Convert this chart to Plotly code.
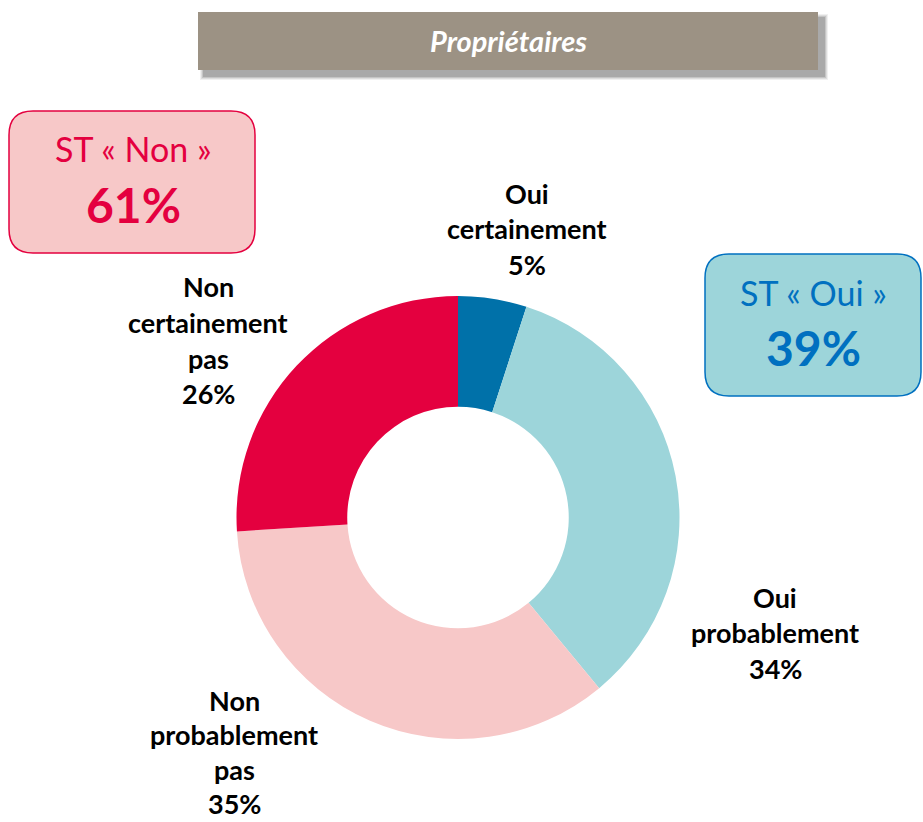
import plotly.graph_objects as go

W, H = 923, 822

categories = ["Oui certainement", "Oui probablement", "Non probablement pas", "Non certainement pas"]
values = [5, 34, 35, 26]
colors = ["#0071A9", "#9DD5DA", "#F7C8C8", "#E4003F"]
label_lines = [
    ["Oui", "certainement", "5%"],
    ["Oui", "probablement", "34%"],
    ["Non", "probablement", "pas", "35%"],
    ["Non", "certainement", "pas", "26%"],
]
title_text = "Propriétaires"
st_non = ["ST « Non »", "61%"]
st_oui = ["ST « Oui »", "39%"]


def px(x):
    return x / W


def py(y):
    return 1 - y / H


def rrect(x0, y0, x1, y1, r):
    rx, ry = r / W, r / H
    X0, X1 = px(x0), px(x1)
    Y0, Y1 = py(y0), py(y1)  # Y0 top, Y1 bottom
    return (f"M {X0+rx},{Y0} L {X1-rx},{Y0} Q {X1},{Y0} {X1},{Y0-ry} "
            f"L {X1},{Y1+ry} Q {X1},{Y1} {X1-rx},{Y1} L {X0+rx},{Y1} "
            f"Q {X0},{Y1} {X0},{Y1+ry} L {X0},{Y0-ry} Q {X0},{Y0} {X0+rx},{Y0} Z")


fig = go.Figure()
fig.add_trace(go.Pie(
    labels=categories, values=values, hole=0.5, sort=False,
    direction="clockwise", rotation=0,
    marker=dict(colors=colors, line=dict(width=0)),
    textinfo="none", hoverinfo="label+percent", showlegend=False,
    domain=dict(x=[px(236), px(680)], y=[py(739), py(296)]),
))

shapes = []
# banner shadow
for i, op in enumerate([0.08, 0.10, 0.14, 0.20]):
    d = 4 - i
    shapes.append(dict(type="rect", xref="paper", yref="paper",
                       x0=px(198 + 6 - d), x1=px(818 + 6 + d), y0=py(70 + 6 + d), y1=py(12 + 6 - d),
                       fillcolor=f"rgba(60,60,60,{op})", line=dict(width=0), layer="below"))
shapes.append(dict(type="rect", xref="paper", yref="paper",
                   x0=px(198), x1=px(818), y0=py(70), y1=py(12),
                   fillcolor="#9C9284", line=dict(width=0)))
shapes.append(dict(type="path", xref="paper", yref="paper", path=rrect(9, 111, 255, 253, 24),
                   fillcolor="#F7C8C8", line=dict(color="#E4003F", width=1.5)))
shapes.append(dict(type="path", xref="paper", yref="paper", path=rrect(705, 254, 921, 396, 24),
                   fillcolor="#9DD5DA", line=dict(color="#0070C0", width=1.5)))

FONT = "Lato"
ann = []


def add(x, y, text, size, color):
    ann.append(dict(x=px(x), y=py(y), xref="paper", yref="paper", text=text,
                    xanchor="center", yanchor="middle", showarrow=False,
                    font=dict(family=FONT, size=size, color=color)))


add(508, 40, f"<b><i>{title_text}</i></b>", 29, "white")
add(133, 148, st_non[0], 34, "#E4003F")
add(133, 205, f"<b>{st_non[1]}</b>", 48, "#E4003F")
add(813, 292, st_oui[0], 34, "#0070C0")
add(813, 348, f"<b>{st_oui[1]}</b>", 48, "#0070C0")

label_pos = [(527, 193, 35.5), (775, 597, 35.5), (234, 700, 34.5), (208, 287, 35.5)]
for lines, (lx, ly, step) in zip(label_lines, label_pos):
    for k, t in enumerate(lines):
        add(lx, ly + step * k, f"<b>{t}</b>", 27, "black")

fig.update_layout(width=W, height=H, margin=dict(l=0, r=0, t=0, b=0),
                  paper_bgcolor="white", plot_bgcolor="white",
                  shapes=shapes, annotations=ann)
fig.write_html("out.html", post_script="document.body.style.margin='0';",
               config={"displayModeBar": False})
